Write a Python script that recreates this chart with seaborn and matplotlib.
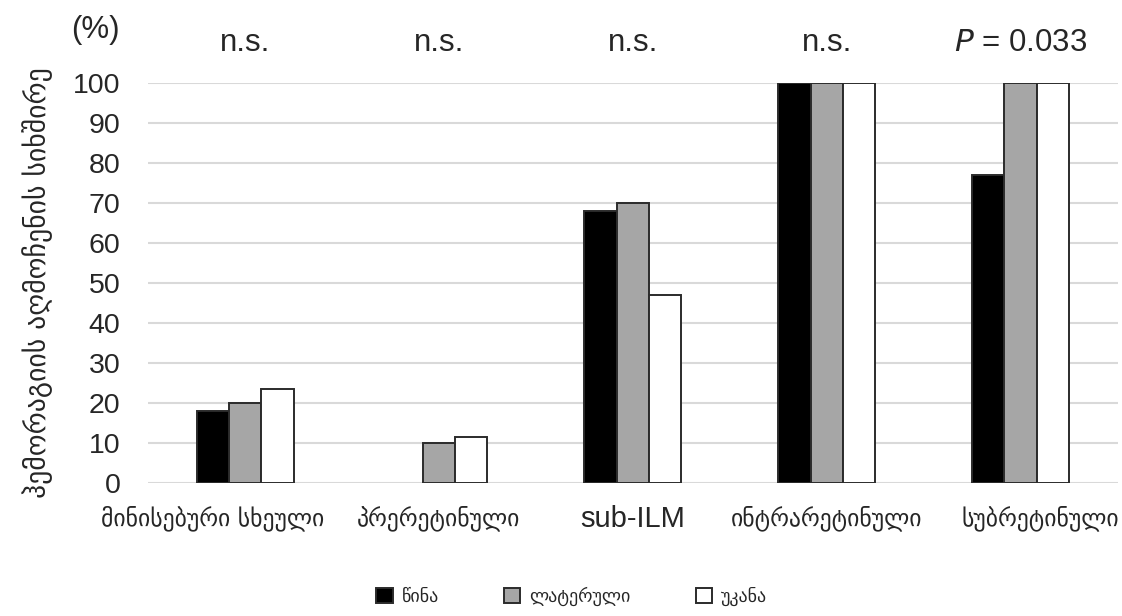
import pandas as pd
import seaborn as sns
import matplotlib.pyplot as plt
import matplotlib.transforms as mtransforms

# dados
categorias = ["მინისებური სხეული", "პრერეტინული", "sub-ILM", "ინტრარეტინული", "სუბრეტინული"]
series = ["წინა", "ლატერული", "უკანა"]
vals_wina = [18, 0, 68, 100, 77]
vals_lat = [20, 10, 70, 100, 100]
vals_ukana = [23.5, 11.5, 47, 100, 100]
significancia = ["n.s.", "n.s.", "n.s.", "n.s.", "$P$ = 0.033"]
ylabel = "ჰემორაგიის აღმოჩენის სიხშირე"

dados = pd.DataFrame({
    "categoria": categorias * 3,
    "serie": [series[0]] * 5 + [series[1]] * 5 + [series[2]] * 5,
    "valor": vals_wina + vals_lat + vals_ukana,
})

sns.set_style("white")
plt.rcParams['font.family'] = ['Liberation Sans', 'DejaVu Sans']

fig = plt.figure(figsize=(11.22, 6.16), dpi=100)
ax = fig.add_axes([0.132, 0.216, 0.864, 0.649])

cores = {"წინა": "black", "ლატერული": "#a6a6a6", "უკანა": "white"}
sns.barplot(data=dados, x="categoria", y="valor", hue="serie", palette=cores,
            order=categorias, hue_order=series, width=0.5,
            edgecolor="#2b2b2b", linewidth=1.4, ax=ax, zorder=3)

# barras com altura zero ficam invisiveis
for p in ax.patches:
    if p.get_height() == 0:
        p.set_linewidth(0)

ax.set_ylim(0, 100)
ax.set_yticks(range(0, 101, 10))
ax.yaxis.grid(True, color="#d9d9d9", linewidth=1.5, zorder=0)
ax.set_axisbelow(True)
sns.despine(ax=ax, left=True, bottom=True)
ax.tick_params(axis="both", length=0)
ax.tick_params(axis="y", labelsize=20.5, pad=20)
ax.tick_params(axis="x", pad=16)

xlbls = ax.get_xticklabels()
for lbl in xlbls:
    if lbl.get_text() == "sub-ILM":
        lbl.set_fontsize(21)
        lbl.set_family("Liberation Sans")
    else:
        lbl.set_fontsize(17)
        lbl.set_family("DejaVu Sans")
# ajuste fino das posicoes dos rotulos
xlbls[0].set_transform(xlbls[0].get_transform() + mtransforms.ScaledTranslation(-0.32, 0, fig.dpi_scale_trans))
xlbls[4].set_transform(xlbls[4].get_transform() + mtransforms.ScaledTranslation(0.2, 0, fig.dpi_scale_trans))

ax.set_xlabel("")
ax.set_ylabel(ylabel, fontsize=20, family="DejaVu Sans", labelpad=14)

# significancia
for i, txt in enumerate(significancia):
    ax.text(i, 110, txt, ha="center", va="center", fontsize=22.5, clip_on=False)
fig.text(0.085, 0.952, "(%)", ha="center", va="center", fontsize=22.5)

# legenda
leg = ax.legend(loc="center", bbox_to_anchor=(0.437, -0.283), ncol=3, frameon=False,
                prop={"family": "DejaVu Sans", "size": 13}, handlelength=0.9,
                handleheight=0.9, columnspacing=3.6, handletextpad=0.5)
for h in leg.legend_handles:
    h.set_edgecolor("#2b2b2b")
    h.set_linewidth(1.4)

plt.savefig("out.png", dpi=100)
